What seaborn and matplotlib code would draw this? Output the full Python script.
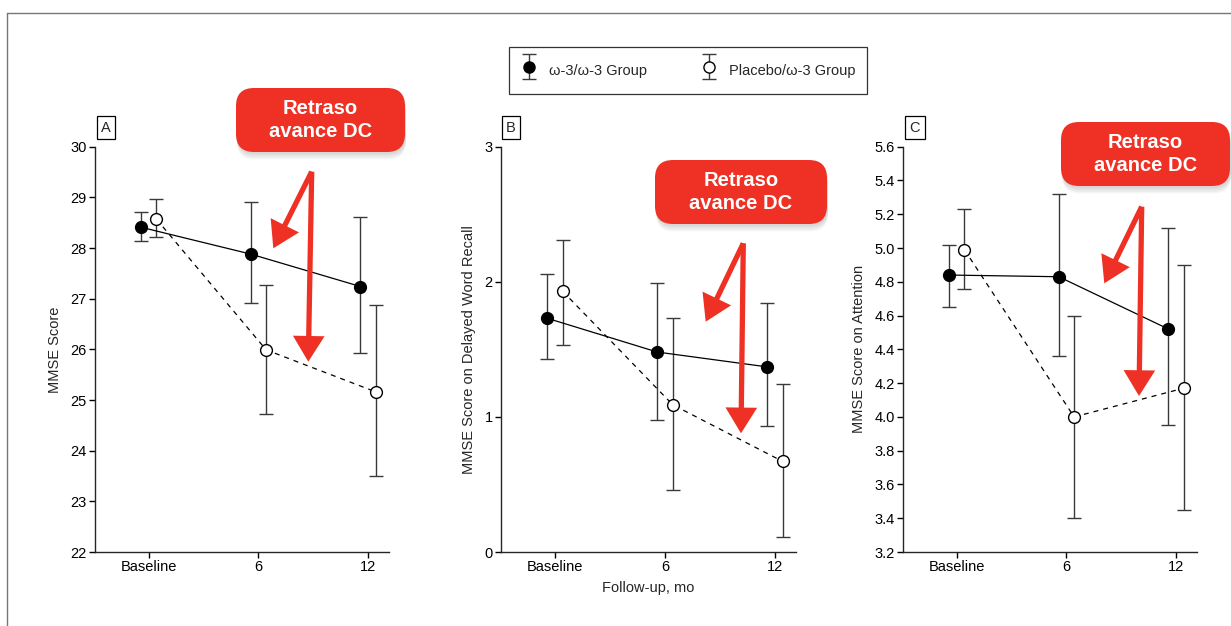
import numpy as np
import pandas as pd
import matplotlib
matplotlib.use("Agg")
import matplotlib.pyplot as plt
import seaborn as sns
from matplotlib.patches import FancyBboxPatch, FancyArrowPatch
from matplotlib.lines import Line2D
from matplotlib.legend_handler import HandlerErrorbar

# ---------------- data ----------------
timepoints = ["Baseline", "6", "12"]
group_names = ["ω-3/ω-3 Group", "Placebo/ω-3 Group"]

A_w3_mean = [28.41, 27.88, 27.24]
A_w3_lo = [28.14, 26.91, 25.92]
A_w3_hi = [28.71, 28.90, 28.61]
A_pl_mean = [28.57, 25.99, 25.16]
A_pl_lo = [28.21, 24.72, 23.50]
A_pl_hi = [28.97, 27.28, 26.88]

B_w3_mean = [1.73, 1.48, 1.37]
B_w3_lo = [1.43, 0.98, 0.93]
B_w3_hi = [2.06, 1.99, 1.84]
B_pl_mean = [1.93, 1.09, 0.67]
B_pl_lo = [1.53, 0.46, 0.11]
B_pl_hi = [2.31, 1.73, 1.24]

C_w3_mean = [4.84, 4.83, 4.52]
C_w3_lo = [4.65, 4.36, 3.95]
C_w3_hi = [5.02, 5.32, 5.12]
C_pl_mean = [4.99, 4.00, 4.17]
C_pl_lo = [4.76, 3.40, 3.45]
C_pl_hi = [5.23, 4.60, 4.90]

A_yticks = [22, 23, 24, 25, 26, 27, 28, 29, 30]
B_yticks = [0, 1, 2, 3]
C_yticks = [3.2, 3.4, 3.6, 3.8, 4.0, 4.2, 4.4, 4.6, 4.8, 5.0, 5.2, 5.4, 5.6]

panel_letters = ["A", "B", "C"]
ylabels = ["MMSE Score", "MMSE Score on Delayed Word Recall", "MMSE Score on Attention"]
xlabel = "Follow-up, mo"
annot_text = "Retraso\navance DC"

# ---------------- style ----------------
sns.set_style("ticks")
cond = ["Liberation Sans Narrow", "Liberation Sans", "DejaVu Sans"]
plt.rcParams["font.family"] = cond
plt.rcParams["axes.linewidth"] = 1.0

W, H = 1231, 626
fig = plt.figure(figsize=(W / 100, H / 100), dpi=100)

def fx(px):
    return px / W

def fy(py):
    return 1 - py / H

panels = [
    dict(left=95, right=389, mean=(A_w3_mean, A_pl_mean), lo=(A_w3_lo, A_pl_lo), hi=(A_w3_hi, A_pl_hi),
         yticks=A_yticks, fmt="{:.0f}", label_x=106),
    dict(left=501, right=796, mean=(B_w3_mean, B_pl_mean), lo=(B_w3_lo, B_pl_lo), hi=(B_w3_hi, B_pl_hi),
         yticks=B_yticks, fmt="{:.0f}", label_x=511),
    dict(left=903, right=1197, mean=(C_w3_mean, C_pl_mean), lo=(C_w3_lo, C_pl_lo), hi=(C_w3_hi, C_pl_hi),
         yticks=C_yticks, fmt="{:.1f}", label_x=915),
]
top_px, bot_px = 146.7, 552.0
offsets = [-0.07, 0.07]
ecol = "#3a3a3a"

for i, p in enumerate(panels):
    ax = fig.add_axes([fx(p["left"]), fy(bot_px), fx(p["right"]) - fx(p["left"]), fy(top_px) - fy(bot_px)])
    rows = []
    for g in range(2):
        for t in range(3):
            rows.append(dict(x=t + offsets[g], y=p["mean"][g][t], group=group_names[g]))
    df = pd.DataFrame(rows)
    for g in range(2):
        xs = np.arange(3) + offsets[g]
        m = np.array(p["mean"][g])
        lo = np.array(p["lo"][g])
        hi = np.array(p["hi"][g])
        ax.errorbar(xs, m, yerr=[m - lo, hi - m], fmt="none", ecolor=ecol, elinewidth=1.0,
                    capsize=4.7, capthick=1.0, zorder=2)
    sns.lineplot(data=df, x="x", y="y", hue="group", style="group",
                 palette={group_names[0]: "black", group_names[1]: "black"},
                 dashes={group_names[0]: "", group_names[1]: (4, 4)},
                 linewidth=0.9, legend=False, ax=ax, zorder=3)
    for g in range(2):
        xs = np.arange(3) + offsets[g]
        ax.plot(xs, p["mean"][g], linestyle="none", marker="o", markersize=8.5,
                markerfacecolor="black" if g == 0 else "white", markeredgecolor="black",
                markeredgewidth=1.0, zorder=4)
    ax.set_xlim(-0.49, 2.19)
    ax.set_ylim(p["yticks"][0], p["yticks"][-1])
    ax.set_xticks([0, 1, 2])
    ax.set_xticklabels(timepoints, fontsize=10.5)
    ax.set_yticks(p["yticks"])
    ax.set_yticklabels([p["fmt"].format(v) for v in p["yticks"]], fontsize=10.5)
    ax.tick_params(axis="both", direction="out", length=4, width=1.0, colors="black", pad=2)
    ax.set_ylabel(ylabels[i], fontsize=10.5, labelpad=6)
    ax.set_xlabel(xlabel if i == 1 else "", fontsize=10.5, labelpad=5)
    sns.despine(ax=ax)
    ax.patch.set_alpha(0)
    fig.text(fx(p["label_x"]), fy(127.5), panel_letters[i], ha="center", va="center", fontsize=10.5,
             bbox=dict(boxstyle="square,pad=0.3", fc="white", ec="black", lw=0.9))

# legend
def make_eb(face):
    tmp_ax = fig.add_axes([0, 0, 0.01, 0.01])
    c = tmp_ax.errorbar([0], [0], yerr=[[1], [1]], fmt="o", color=ecol, markersize=8,
                        markerfacecolor=face, markeredgecolor="black", capsize=4.7, elinewidth=1.0)
    tmp_ax.remove()
    return c
eb1 = make_eb("black")
eb2 = make_eb("white")
hmap = {eb1: HandlerErrorbar(xerr_size=0.5, yerr_size=0.85),
        eb2: HandlerErrorbar(xerr_size=0.5, yerr_size=0.85)}
leg = fig.legend([eb1, eb2], group_names, loc="center", bbox_to_anchor=(fx(688), fy(70.5)),
                 ncol=2, frameon=True, fancybox=False, edgecolor="black", fontsize=10.5,
                 handlelength=1.2, handleheight=2.2, columnspacing=3.6, borderpad=0.8,
                 handletextpad=0.8, handler_map=hmap)
leg.get_frame().set_linewidth(0.9)

# outer frame
fig.add_artist(Line2D([fx(7), fx(7)], [fy(13), 0], transform=fig.transFigure, color="#777777", lw=1))
fig.add_artist(Line2D([fx(7), 1], [fy(13), fy(13)], transform=fig.transFigure, color="#777777", lw=1))

# annotations (inch coordinates for isotropic shapes)
red = "#EE3124"
tr = fig.dpi_scale_trans

def pin(px, py):
    return (px / 100, (H - py) / 100)

boxes = [(236, 88, 405, 152), (655, 160, 827, 224), (1061, 122, 1230, 186)]
arrows = [((311.7, 171.7), (273.3, 248.3), (308.3, 361.7)),
          ((743.3, 243.3), (705.7, 321.7), (741.0, 433.3)),
          ((1141.7, 206.7), (1104.3, 283.3), (1139.0, 396.0))]

for (x0, y0, x1, y1), (top, left_tip, down_tip) in zip(boxes, arrows):
    w = (x1 - x0) / 100
    hh = (y1 - y0) / 100
    bx, by = pin(x0, y1)
    for k in range(5):
        off = 0.015 + 0.015 * k
        sh = FancyBboxPatch((bx + 0.01, by - off), w, hh, boxstyle="round,pad=0,rounding_size=0.18",
                            transform=tr, fc="#555555", ec="none", alpha=0.05, zorder=5)
        fig.add_artist(sh)
    box = FancyBboxPatch((bx, by), w, hh, boxstyle="round,pad=0,rounding_size=0.18",
                         transform=tr, fc=red, ec="none", zorder=6)
    fig.add_artist(box)
    cx, cy = pin((x0 + x1) / 2, (y0 + y1) / 2)
    fig.text(cx, cy, annot_text, transform=tr, ha="center", va="center", color="white",
             fontsize=14.5, fontweight="bold", family=["Liberation Sans", "DejaVu Sans"],
             linespacing=1.3, zorder=7)
    for tip in (left_tip, down_tip):
        arr = FancyArrowPatch(pin(*top), pin(*tip), transform=tr,
                              arrowstyle="-|>,head_length=13,head_width=8", mutation_scale=1,
                              color=red, lw=3.8, shrinkA=0, shrinkB=0, zorder=6,
                              joinstyle="miter", capstyle="butt")
        fig.add_artist(arr)

fig.savefig("out.png", dpi=100)
